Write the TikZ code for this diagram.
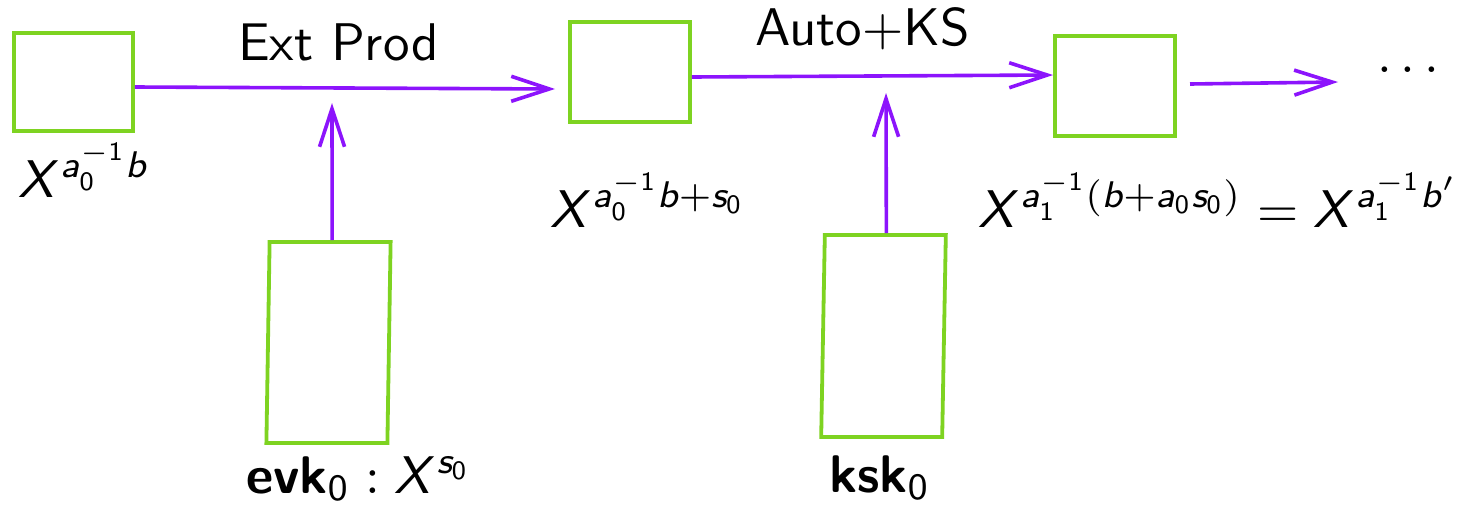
\RequirePackage{fix-cm}
\documentclass[tikz,border=0pt]{standalone}
\usetikzlibrary{arrows.meta,calc}
\DeclareSymbolFont{sfletters}{OT1}{cmss}{m}{sl}
\DeclareSymbolFont{sfdigits}{OT1}{cmss}{m}{n}
\DeclareMathSymbol{X}{\mathalpha}{sfletters}{`X}
\DeclareMathSymbol{a}{\mathalpha}{sfletters}{`a}
\DeclareMathSymbol{b}{\mathalpha}{sfletters}{`b}
\DeclareMathSymbol{s}{\mathalpha}{sfletters}{`s}
\DeclareMathSymbol{0}{\mathord}{sfdigits}{`0}
\DeclareMathSymbol{1}{\mathord}{sfdigits}{`1}
\definecolor{boxgreen}{RGB}{126,211,33}
\definecolor{arrpurple}{RGB}{140,20,252}
\newcommand\sk[1]{\scalebox{5.3}{\fontsize{10}{12}\selectfont\sffamily #1}}
\tikzset{
  keybox/.style={draw=boxgreen, line width=3.8pt, inner sep=0pt},
  arr/.style={draw=arrpurple, line width=3.6pt, -{Straight Barb[length=38pt,width=25pt]}},
  lbl/.style={anchor=base west, inner sep=0pt}
}
\begin{document}
\begin{tikzpicture}[x=1pt,y=-1pt]
\useasboundingbox (0,0) rectangle (1466,512);
% boxes
\node[keybox, minimum width=119pt, minimum height=98pt] (A) at (73.5,82) {};
\node[keybox, minimum width=120pt, minimum height=100pt] (B) at (630,72) {};
\node[keybox, minimum width=120pt, minimum height=100pt] (C) at (1115,86) {};
\node[keybox, minimum width=121pt, minimum height=201pt, xslant=0.016, transform shape] (D) at (328.5,342.5) {};
\node[keybox, minimum width=121pt, minimum height=202pt, xslant=0.018, transform shape] (E) at (883.5,336) {};
% arrow ends
\coordinate (A1) at ($(A.east)+(0,5)$);
\coordinate (t1) at (555,89);
\coordinate (u1) at (332,103);
\coordinate (D1) at ($(D.north)+(2,0)$);
\coordinate (B1) at ($(B.east)+(0,5)$);
\coordinate (t2) at (1053,75);
\coordinate (u2) at (886,93);
\coordinate (E1) at ($(E.north)+(1,0)$);
\coordinate (s3) at (1190,84);
\coordinate (t3) at (1338,82);
% connectors
\draw[arr] (A1) -- (t1);
\draw[arr] (D1) -- (u1);
\draw[arr] (B1) -- (t2);
\draw[arr] (E1) -- (u2);
\draw[arr] (s3) -- (t3);
% labels
\node[lbl] (lt1) at (238,60) {\sk{Ext Prod}};
\node[lbl] (lt2) at (755,45) {\sk{Auto+KS}};
\node[lbl, anchor=base] (dots) at (1408,72) {\sk{$\ldots$}};
\node[lbl] (la) at (18,197) {\sk{$X^{a_0^{-1}b}$}};
\node[lbl] (lb) at (550,227) {\sk{$X^{a_0^{-1}b+s_0}$}};
\node[lbl] (lc) at (978,227) {\sk{$X^{a_1^{-1}(b+a_0s_0)} = X^{a_1^{-1}b'}$}};
\node[lbl] (ld) at (246,493) {\sk{$\mbox{\textbf{evk}}_0 : X^{s_0}$}};
\node[lbl] (le) at (829,492) {\sk{$\mbox{\textbf{ksk}}_0$}};
\end{tikzpicture}
\end{document}
